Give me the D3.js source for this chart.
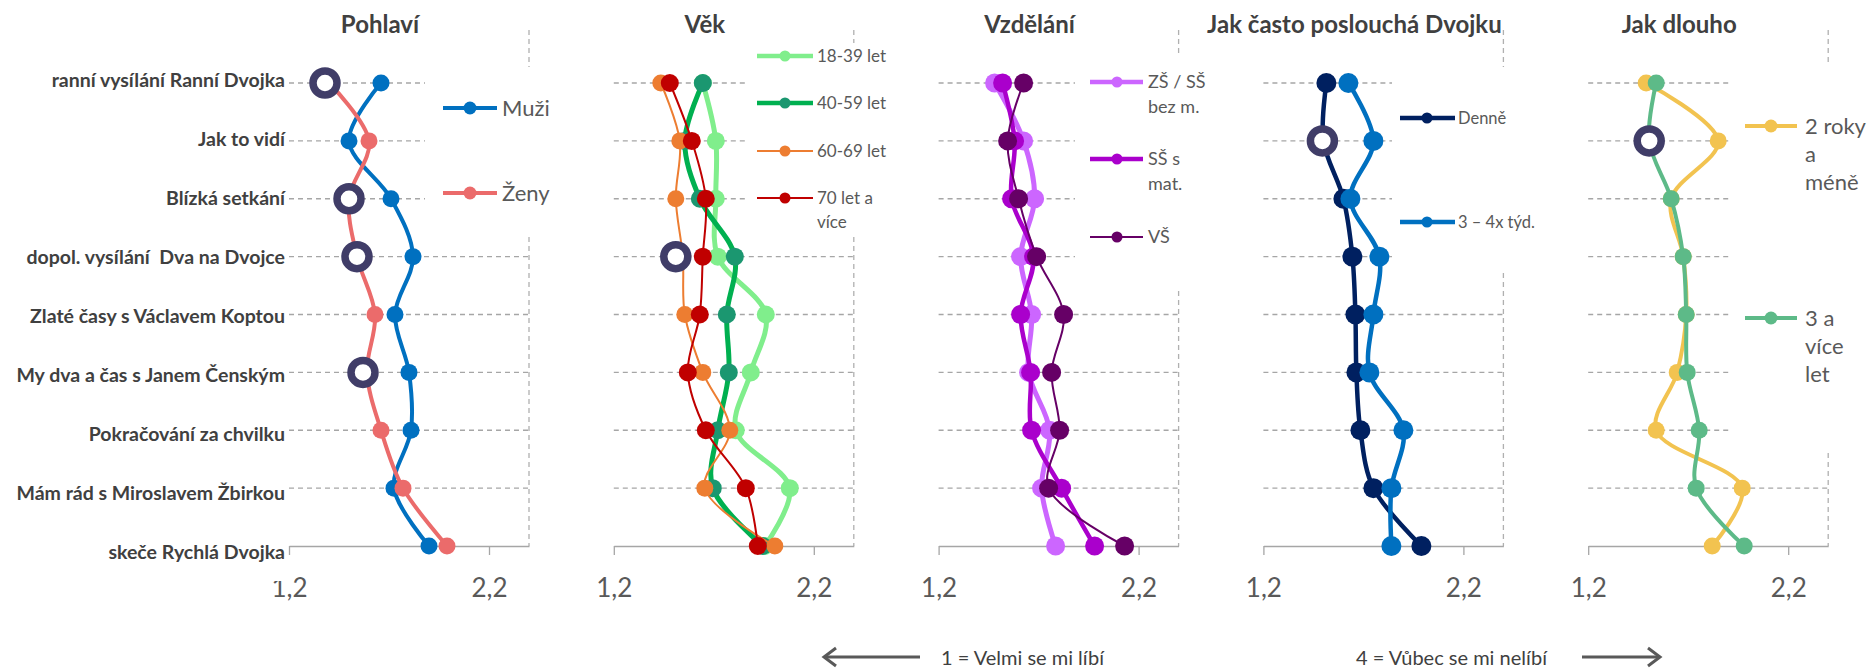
<!DOCTYPE html>
<html><head><meta charset="utf-8">
<script src="https://cdn.jsdelivr.net/npm/d3@7"></script>
<style>
html,body{margin:0;padding:0;background:#fff;}
svg text{font-family:Lato,"Open Sans",sans-serif;}
</style></head>
<body>
<svg id="chart" width="1868" height="669"></svg>
<script>
// ---------- DATA ----------
const categories = ["ranní vysílání Ranní Dvojka","Jak to vidí","Blízká setkání","dopol. vysílání  Dva na Dvojce","Zlaté časy s Václavem Koptou","My dva a čas s Janem Čenským","Pokračování za chvilku","Mám rád s Miroslavem Žbirkou","skeče Rychlá Dvojka"];
const panelTitles = ["Pohlaví","Věk","Vzdělání","Jak často poslouchá Dvojku","Jak dlouho"];
const tickValues = [1.2, 2.2];
const tickLabels = ["1,2","2,2"];
const xDomain = [1.2, 2.4];

const muzi   = [1.66,1.50,1.71,1.82,1.73,1.80,1.81,1.725,1.90];
const zeny   = [1.40,1.60,1.50,1.54,1.63,1.59,1.66,1.77,1.99];

const age1839 = [1.645,1.71,1.71,1.72,1.96,1.885,1.81,2.08,1.955];
const age4059 = [1.645,1.555,1.63,1.805,1.765,1.775,1.72,1.695,1.945];
const age6069 = [1.435,1.53,1.51,1.545,1.555,1.645,1.78,1.655,2.005];
const age70   = [1.48,1.59,1.66,1.645,1.63,1.57,1.66,1.86,1.92];

const eduZS = [1.48,1.625,1.68,1.61,1.665,1.65,1.755,1.715,1.785];
const eduSS = [1.52,1.58,1.565,1.675,1.61,1.66,1.665,1.815,1.98];
const eduVS = [1.625,1.545,1.60,1.69,1.825,1.765,1.805,1.75,2.13];

const freqDaily = [1.515,1.50,1.60,1.645,1.66,1.665,1.685,1.75,1.99];
const freq34    = [1.625,1.75,1.635,1.78,1.75,1.73,1.90,1.84,1.84];

const dur2  = [1.49,1.85,1.615,1.675,1.69,1.645,1.54,1.97,1.82];
const dur3  = [1.54,1.505,1.615,1.675,1.69,1.695,1.755,1.74,1.98];

// highlighted (significant) points: panel index, category index, value
const highlights = [[0,0,1.38],[0,2,1.50],[0,3,1.54],[0,5,1.57],[1,3,1.51],[3,1,1.495],[4,1,1.505]];

const legendLabels = [
  [["Muži"],["Ženy"]],
  [["18-39 let"],["40-59 let"],["60-69 let"],["70 let a","více"]],
  [["ZŠ / SŠ","bez m."],["SŠ s","mat."],["VŠ"]],
  [["Denně"],["3 – 4x týd."]],
  [["2 roky","a","méně"],["3 a","více","let"]]
];
const bottomLeft = "1 = Velmi se mi líbí";
const bottomRight = "4 = Vůbec se mi nelíbí";

// ---------- STYLE / LAYOUT ----------
const panels = [
  {series:[muzi,zeny], colors:["#0070C0","#EB6B6B"], marker:["#0070C0","#EB6B6B"], widths:[4,4], r:[8.5,8.5],
   legend:{box:[425,67,585,237], lx1:443, lx2:497, dot:470, tx:502, ys:[108,193], fs:22, lh:26, r:6.5, lw:[4,4]}},
  {series:[age1839,age4059,age6069,age70], colors:["#80EE8C","#00B050","#ED7D31","#C00000"], marker:["#80EE8C","#1B9770","#ED7D31","#C00000"], widths:[5,5,2,2], r:[9,9,8.5,9],
   legend:{box:[747,43,905,237], lx1:757, lx2:813, dot:785, tx:817, ys:[56,103,151,198], fs:17, lh:24, r:5.5, lw:[4.5,4.5,2,2]}},
  {series:[eduZS,eduSS,eduVS], colors:["#CC66FF","#AA00CC","#660066"], marker:["#CC66FF","#AA00CC","#660066"], widths:[5,4.5,2], r:[9.5,9.5,9.5],
   legend:{box:[1075,53,1235,290], lx1:1090, lx2:1143, dot:1117, tx:1148, ys:[82,159,237], fs:18, lh:25, r:5.5, lw:[4.5,4.5,2]}},
  {series:[freqDaily,freq34], colors:["#002060","#0070C0"], marker:["#002060","#0070C0"], widths:[4.5,4.5], r:[10,10],
   legend:{box:[1392,67,1560,273], lx1:1400, lx2:1455, dot:1427, tx:1458, ys:[118,222], fs:16.5, lh:24, r:5.5, lw:[4.5,4.5]}},
  {series:[dur2,dur3], colors:["#F2C350","#5DBA88"], marker:["#F2C350","#5DBA88"], widths:[4,4], r:[8.5,8.5],
   legend:{box:[1731,62,1868,450], lx1:1745, lx2:1797, dot:1771, tx:1805, ys:[126,318], fs:22, lh:28, r:6.5, lw:[4,4]}}
];

const svg = d3.select("#chart");
const plotTop = 30, rowTop = 83, rowBottom = 546;
const panelLeft0 = 289, panelStep = 324.8, panelW = 240;
const titleOffset = -29;

const y = d3.scalePoint().domain(categories).range([rowTop,rowBottom]);
const yLabel = d3.scalePoint().domain(categories).range([80,552]);
const gridColor = "#A6A6A6";

const gGrid = svg.append("g"), gMarks = svg.append("g"), gOver = svg.append("g");

panels.forEach((p,pi)=>{
  const left = panelLeft0 + pi*panelStep;
  const x = d3.scaleLinear().domain(xDomain).range([left,left+panelW]);
  p.x = x;
  // gridlines
  gGrid.selectAll(null).data(categories.slice(0,-1)).enter().append("line")
    .attr("x1",x(xDomain[0])).attr("x2",x(xDomain[1]))
    .attr("y1",d=>y(d)).attr("y2",d=>y(d))
    .attr("stroke",gridColor).attr("stroke-width",1.3).attr("stroke-dasharray","5,4");
  // right border dashed
  gGrid.append("line").attr("x1",x(xDomain[1])).attr("x2",x(xDomain[1]))
    .attr("y1",plotTop).attr("y2",rowBottom)
    .attr("stroke","#B0B0B0").attr("stroke-width",1.3).attr("stroke-dasharray","5,4");
  // axis
  const axis = d3.axisBottom(x).tickValues(tickValues).tickFormat((d,i)=>tickLabels[i]).tickSize(9).tickSizeOuter(0);
  const ga = gGrid.append("g").attr("transform",`translate(0,${rowBottom})`).call(axis);
  ga.select(".domain").attr("stroke",gridColor).attr("stroke-width",1.3);
  ga.selectAll(".tick line").attr("stroke",gridColor).attr("stroke-width",1.3);
  ga.selectAll(".tick text").attr("fill","#595959").attr("font-size",26).attr("dy","1.5em")
    .attr("font-family","Lato, sans-serif");

  // series
  const line = d3.line().x(d=>x(d.v)).y(d=>y(d.c)).curve(d3.curveCatmullRom.alpha(0.5));
  p.series.forEach((s,si)=>{
    const pts = s.map((v,i)=>({v:v,c:categories[i]}));
    gMarks.append("path").attr("d",line(pts)).attr("fill","none")
      .attr("stroke",p.colors[si]).attr("stroke-width",p.widths[si]).attr("stroke-linejoin","round");
    gMarks.selectAll(null).data(pts).enter().append("circle")
      .attr("cx",d=>x(d.v)).attr("cy",d=>y(d.c)).attr("r",p.r[si]).attr("fill",p.marker[si]);
  });
});

// highlight rings
gMarks.selectAll(null).data(highlights).enter().append("circle")
  .attr("cx",d=>panels[d[0]].x(d[2])).attr("cy",d=>y(categories[d[1]]))
  .attr("r",12).attr("fill","#fff").attr("stroke","#403D68").attr("stroke-width",7.5);

// legends
panels.forEach((p,pi)=>{
  const L = p.legend;
  gOver.append("rect").attr("x",L.box[0]).attr("y",L.box[1]).attr("width",L.box[2]-L.box[0]).attr("height",L.box[3]-L.box[1]).attr("fill","#fff");
  legendLabels[pi].forEach((lines,si)=>{
    const yy = L.ys[si];
    gOver.append("line").attr("x1",L.lx1).attr("x2",L.lx2).attr("y1",yy).attr("y2",yy)
      .attr("stroke",p.colors[si]).attr("stroke-width",L.lw[si]);
    gOver.append("circle").attr("cx",L.dot).attr("cy",yy).attr("r",L.r).attr("fill",p.marker[si]);
    const t = gOver.append("text").attr("x",L.tx).attr("y",yy + L.fs*0.36).attr("fill","#595959").attr("font-size",L.fs);
    lines.forEach((ln,li)=>{
      t.append("tspan").attr("x",L.tx).attr("dy", li===0?0:L.lh).text(ln);
    });
  });
});

// titles
panelTitles.forEach((t,pi)=>{
  const left = panelLeft0 + pi*panelStep;
  gOver.append("text").attr("x",left+panelW/2+titleOffset).attr("y",33).attr("text-anchor","middle")
    .attr("font-size",24).attr("font-weight",700).attr("fill","#404040").text(t);
});

// category labels (white backgrounds)
gOver.selectAll(null).data(categories).enter().append("rect")
  .attr("x",0).attr("width",287).attr("y",d=>yLabel(d)-29).attr("height",58).attr("fill","#fff");
gOver.selectAll(null).data(categories).enter().append("text")
  .attr("x",285).attr("y",d=>yLabel(d)+7).attr("text-anchor","end")
  .attr("font-size",19.5).attr("font-weight",700).attr("fill","#404040")
  .style("white-space","pre").text(d=>d);

// bottom annotation
const arrowColor = "#595959";
gOver.append("text").attr("x",941).attr("y",665).attr("font-size",20).attr("fill","#404040").text(bottomLeft);
gOver.append("text").attr("x",1356).attr("y",665).attr("font-size",20).attr("fill","#404040").text(bottomRight);
gOver.append("line").attr("x1",920).attr("x2",824).attr("y1",657).attr("y2",657).attr("stroke",arrowColor).attr("stroke-width",3);
gOver.append("polyline").attr("points","836,648 824,657 836,666").attr("fill","none").attr("stroke",arrowColor).attr("stroke-width",3);
gOver.append("line").attr("x1",1582).attr("x2",1660).attr("y1",657).attr("y2",657).attr("stroke",arrowColor).attr("stroke-width",3);
gOver.append("polyline").attr("points","1648,648 1660,657 1648,666").attr("fill","none").attr("stroke",arrowColor).attr("stroke-width",3);
</script>
</body></html>
